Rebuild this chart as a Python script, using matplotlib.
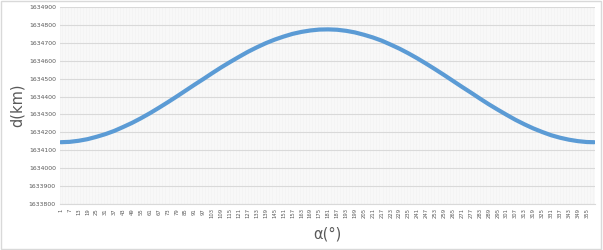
import matplotlib.pyplot as plt
from matplotlib.patches import Rectangle

# angle (deg) and distance (km), every 6 degrees
alpha = [1, 7, 13, 19, 25, 31, 37, 43, 49, 55, 61, 67, 73, 79, 85, 91, 97, 103,
         109, 115, 121, 127, 133, 139, 145, 151, 157, 163, 169, 175, 181, 187,
         193, 199, 205, 211, 217, 223, 229, 235, 241, 247, 253, 259, 265, 271,
         277, 283, 289, 295, 301, 307, 313, 319, 325, 331, 337, 343, 349, 355, 360]
dist = [1634145, 1634147, 1634153, 1634162, 1634175, 1634190, 1634208, 1634230,
        1634253, 1634279, 1634307, 1634337, 1634368, 1634400, 1634433, 1634466,
        1634498, 1634531, 1634563, 1634593, 1634622, 1634650, 1634675, 1634698,
        1634718, 1634735, 1634750, 1634761, 1634769, 1634774, 1634775, 1634773,
        1634767, 1634758, 1634745, 1634730, 1634712, 1634690, 1634667, 1634641,
        1634613, 1634583, 1634552, 1634520, 1634487, 1634454, 1634422, 1634389,
        1634357, 1634327, 1634298, 1634270, 1634245, 1634222, 1634202, 1634184,
        1634170, 1634159, 1634151, 1634146, 1634145]

categories = list(range(1, 361))
xtick_labels = list(range(1, 361, 6))
yticks = list(range(1633800, 1634901, 100))

fig = plt.figure(figsize=(6.03, 2.5), dpi=100)
fig.patches.append(Rectangle((0.002, 0.006), 0.995, 0.99, transform=fig.transFigure,
                             fill=False, edgecolor='#d9d9d9', linewidth=1))

ax = fig.add_axes([60 / 603, 1 - 204 / 250, 535 / 603, 197 / 250])
ax.set_facecolor('#f4f4f4')

# light vertical lines, one per category
for c in categories:
    ax.axvline(c + 0.5, color='#ffffff', linewidth=0.4, alpha=0.7, zorder=0)
for y in yticks:
    ax.axhline(y, color='#d9d9d9', linewidth=0.8, zorder=1)

ax.plot(alpha, dist, color='#5b9bd5', linewidth=3.0, solid_capstyle='round', zorder=3)

ax.set_xlim(0.5, 360.5)
ax.set_ylim(1633800, 1634900)
ax.set_yticks(yticks)
ax.set_yticklabels([str(v) for v in yticks], fontsize=4.4, color='#595959')
ax.set_xticks(xtick_labels)
ax.set_xticklabels([str(v) for v in xtick_labels], fontsize=3.8, color='#595959', rotation=90)
ax.tick_params(axis='both', length=0, pad=3)
for s in ax.spines.values():
    s.set_visible(False)
ax.spines['bottom'].set_visible(True)
ax.spines['bottom'].set_color('#d9d9d9')

ax.set_ylabel('d(km)', fontsize=10.5, color='#595959', labelpad=3)
ax.set_xlabel('α(°)', fontsize=10.5, color='#595959', labelpad=6)

fig.savefig('out.png', dpi=100)
